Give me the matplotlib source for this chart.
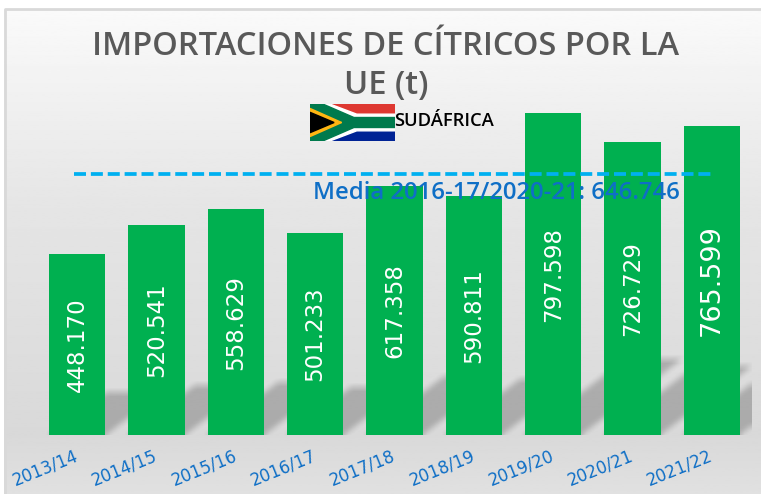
import matplotlib
matplotlib.use("Agg")
import matplotlib.pyplot as plt
import numpy as np
from matplotlib.patches import Polygon, Rectangle

campaigns = ["2013/14", "2014/15", "2015/16", "2016/17", "2017/18", "2018/19", "2019/20", "2020/21", "2021/22"]
volumes = [448170, 520541, 558629, 501233, 617358, 590811, 797598, 726729, 765599]
volume_labels = ["448.170", "520.541", "558.629", "501.233", "617.358", "590.811", "797.598", "726.729", "765.599"]
average = 646746
average_label = "Media 2016-17/2020-21: 646.746"
title = "IMPORTACIONES DE CÍTRICOS POR LA\nUE (t)"
country = "SUDÁFRICA"

W, H = 761, 494
GREEN = "#00b050"
BLUE = "#0f6fc6"


def px_axes(fig, left, top, right, bottom):
    return fig.add_axes([left / W, 1 - bottom / H, (right - left) / W, (bottom - top) / H])


def draw_flag(fig, left, top, right, bottom):
    ax = px_axes(fig, left, top, right, bottom)
    ax.set_xlim(0, 3)
    ax.set_ylim(0, 2)
    ax.axis("off")
    ax.add_patch(Rectangle((0, 1), 3, 1, color="#de3831"))
    ax.add_patch(Rectangle((0, 0), 3, 1, color="#002395"))
    ax.add_patch(Polygon([(0, 2), (0.7, 2), (1.65, 1.45), (3, 1.45), (3, 0.55), (1.65, 0.55), (0.7, 0), (0, 0)], color="white"))
    ax.add_patch(Polygon([(0, 2), (0.45, 2), (1.55, 1.27), (3, 1.27), (3, 0.73), (1.55, 0.73), (0.45, 0), (0, 0)], color="#007a4d"))
    ax.add_patch(Polygon([(0, 1.76), (1.12, 1), (0, 0.24)], color="#ffb612"))
    ax.add_patch(Polygon([(0, 1.55), (0.85, 1), (0, 0.45)], color="black"))


def box_blur(arr, size):
    kernel = np.ones(size) / size
    pad = size // 2
    padded = np.pad(arr, pad, mode="edge")
    padded = np.apply_along_axis(lambda r: np.convolve(r, kernel, mode="same"), 0, padded)
    padded = np.apply_along_axis(lambda r: np.convolve(r, kernel, mode="same"), 1, padded)
    return padded[pad:-pad, pad:-pad]


fig = plt.figure(figsize=(W / 100, H / 100), dpi=100, facecolor="white")

# panel background with its grey frame
bg = px_axes(fig, 4, 9, 761, 494)
bg.axis("off")
ramp = np.interp(np.linspace(0, 1, 256), [0, 0.4, 0.88, 1], [0.98, 0.90, 0.85, 0.88])
bg.imshow(ramp[:, None], cmap="gray", vmin=0, vmax=1, aspect="auto", extent=(0, 1, 0, 1))
fig.add_artist(plt.Line2D([4.5 / W, 4.5 / W, 1], [0, 1 - 9 / H, 1 - 9 / H], color="#d9d9d9", lw=2))

ax = px_axes(fig, 37.5, 35, 751.5, 435)
ax.set_facecolor("none")
ax.set_xlim(-0.5, 8.5)
y_top = 400 * 797598 / 322
ax.set_ylim(0, y_top)
for side in ax.spines.values():
    side.set_visible(False)

bar_w = 0.71
x_pos = np.arange(len(volumes))

# floor shadow: each bar's base sheared up to the right, all merged then blurred
gx = np.linspace(-0.5, 8.5, 714)
gy = np.linspace(0, y_top, 400)
X, Y = np.meshgrid(gx, gy)
x_per_y = (1.33 * (y_top / 400) ** -1) / (714 / 9)
mask = np.zeros_like(X)
for x, v in zip(x_pos, volumes):
    shift = Y * x_per_y
    inside = (Y <= v * 0.235) & (X - shift >= x - bar_w / 2) & (X - shift <= x + bar_w / 2)
    mask[inside] = 1
shadow = np.zeros(mask.shape + (4,))
shadow[..., :3] = 0.25
shadow[..., 3] = box_blur(mask, 9) * 0.3
ax.imshow(shadow, origin="lower", extent=(-0.5, 8.5, 0, y_top), aspect="auto", zorder=1)

ax.bar(x_pos, volumes, width=bar_w, color=GREEN, zorder=2)
ax.plot([-0.04, 8.03], [average, average], color="#00b0f0", lw=2.7, dashes=(3.2, 1.3), zorder=3)

for x, v, label in zip(x_pos, volumes, volume_labels):
    big = label == volume_labels[-1]
    ax.text(x, v / 2, label, rotation=90, ha="center", va="center", color="white",
            fontsize=19.5 if big else 16.5, zorder=4)

ax.set_xticks(x_pos)
ax.set_xticklabels(campaigns, rotation=22, color=BLUE, fontsize=12, ha="right", va="center", rotation_mode="anchor")
ax.tick_params(axis="x", length=0, pad=14.5)
ax.set_yticks([])

fig.text(496 / W, 1 - 192.5 / H, average_label, ha="center", va="center", color=BLUE,
         fontsize=17.2, fontfamily="Open Sans", fontweight="semibold", zorder=5)
fig.text(386 / W, 1 - 66 / H, title, ha="center", va="center", color="#595959", fontsize=23.5,
         fontfamily="Open Sans", fontweight="semibold", linespacing=1.24)
fig.text(394 / W, 1 - 121 / H, country, ha="left", va="center", color="black", fontsize=13.2,
         fontfamily="Open Sans", fontweight="semibold")
draw_flag(fig, 310, 104, 395, 141)

fig.savefig("out.png", dpi=100)
